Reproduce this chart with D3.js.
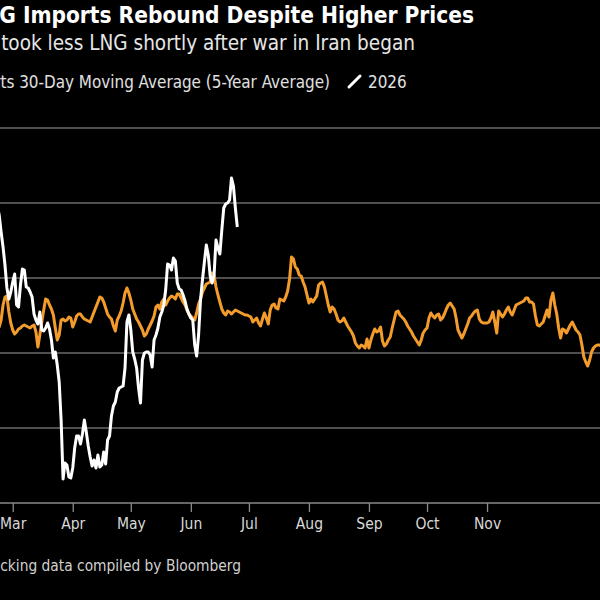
<!DOCTYPE html>
<html>
<head>
<meta charset="utf-8">
<script src="https://cdn.jsdelivr.net/npm/d3@7"></script>
<style>
  html, body { margin: 0; background: #000; }
  svg { display: block; }
</style>
</head>
<body>
<div id="chart"></div>
<script>
// ---- data ----
const titleText = "Japan's LNG Imports Rebound Despite Higher Prices";
const subtitleText = "Japan took less LNG shortly after war in Iran began";
const avgLabel = "LNG Imports 30-Day Moving Average (5-Year Average)";
const currentLabel = "2026";
const sourceText = "Source: Ship-tracking data compiled by Bloomberg";

const monthLabels = ["Mar", "Apr", "May", "Jun", "Jul", "Aug", "Sep", "Oct", "Nov"];
const monthStarts = ["2026-03-01", "2026-04-01", "2026-05-01", "2026-06-01", "2026-07-01",
                     "2026-08-01", "2026-09-01", "2026-10-01", "2026-11-01"];
const gridValues = [0, 75, 150, 225, 300, 375];

// both series are daily, starting on this date
const seriesStart = "2026-02-21";

// 5-year average of the 30-day moving average
const avgValues = [
  173, 176, 183, 198, 206, 207, 191, 180, 173, 169, 171, 174, 175, 177, 178, 177,
  176, 175, 177, 178, 171, 156, 168, 181, 193, 204, 203, 198, 194, 188, 175, 163,
  168, 183, 184, 182, 183, 186, 185, 176, 181, 187, 189, 189, 186, 184, 183, 182,
  181, 186, 191, 196, 201, 206, 205, 201, 195, 189, 186, 184, 177, 172, 183, 187,
  192, 200, 210, 215, 210, 203, 194, 189, 184, 181, 177, 173, 167, 169, 174, 178,
  182, 187, 196, 198, 194, 201, 204, 198, 202, 205, 207, 206, 204, 209, 209, 205,
  201, 198, 193, 189, 187, 185, 183, 190, 199, 204, 211, 215, 219, 220, 221, 230,
  228, 216, 208, 201, 194, 190, 188, 192, 191, 189, 191, 193, 192, 191, 190, 189,
  188, 188, 187, 186, 181, 183, 185, 180, 177, 184, 190, 185, 179, 193, 198, 199,
  195, 194, 204, 203, 202, 206, 212, 224, 246, 244, 236, 234, 228, 227, 221, 216,
  208, 200, 204, 201, 204, 207, 218, 220, 221, 216, 207, 198, 191, 196, 194, 189,
  183, 181, 182, 185, 181, 177, 174, 171, 167, 160, 157, 155, 158, 157, 155, 164,
  155, 163, 169, 174, 171, 172, 176, 162, 157, 159, 163, 166, 175, 183, 191, 192,
  188, 186, 184, 181, 177, 174, 171, 167, 164, 161, 158, 163, 170, 173, 175, 185,
  190, 187, 185, 188, 189, 183, 185, 189, 194, 198, 200, 197, 194, 185, 173, 169,
  165, 169, 174, 179, 185, 187, 190, 192, 193, 184, 181, 180, 180, 180, 181, 185,
  191, 181, 170, 192, 189, 186, 189, 193, 196, 191, 188, 193, 198, 199, 200, 201,
  202, 205, 205, 201, 201, 199, 187, 178, 177, 179, 181, 187, 193, 186, 203, 210,
  198, 189, 175, 165, 174, 173, 170, 174, 178, 181, 177, 173, 171, 168, 158, 146,
  141, 137, 143, 151, 155, 157, 158, 158, 157
];

// 2026
const currentValues = [
  298, 288, 271, 256, 238, 215, 204, 211, 221, 229, 198, 196, 218, 234, 233, 216,
  215, 211, 206, 189, 183, 179, 191, 173, 172, 175, 180, 174, 163, 145, 151, 138,
  121,  83,  24,  40,  38,  26,  25,  35,  55,  67,  67,  59,  69,  83,  71,  57,
   46,  37,  43,  35,  48,  36,  38,  51,  39,  63,  67,  87,  97, 101, 111, 115,
  116, 117, 135, 181, 188, 173, 151, 144, 135, 115, 100, 143, 150, 151, 151, 148,
  136, 163, 168, 175, 186, 191, 198, 213, 239, 238, 233, 245, 242, 220, 214, 213,
  208, 202, 194, 189, 185, 183, 158, 147, 168, 203, 223, 241, 258, 248, 227, 220,
  228, 263, 255, 249, 273, 295, 299, 300, 303, 325, 317, 295, 276
];

// ---- layout ----
const width = 600, height = 600;
const parseDate = d3.timeParse("%Y-%m-%d");
const startDate = parseDate(seriesStart);
const toSeries = values => values.map((v, i) => ({ date: d3.timeDay.offset(startDate, i), value: v }));
const avgData = toSeries(avgValues);
const currentData = toSeries(currentValues);

const svg = d3.select("#chart").append("svg")
  .attr("width", width)
  .attr("height", height)
  .style("background", "#000");

// the frame is cropped: the year runs slightly off both edges
const xScale = d3.scaleTime()
  .domain([parseDate("2026-01-01"), parseDate("2026-12-31")])
  .range([-101.5, 603.2]);
const yScale = d3.scaleLinear()
  .domain([0, 375])
  .range([503, 128]);

const font = "'DejaVu Sans Condensed', 'DejaVu Sans', sans-serif";

// gridlines
svg.append("g")
  .selectAll("line")
  .data(gridValues.slice(1))
  .join("line")
  .attr("x1", 0).attr("x2", width)
  .attr("y1", d => yScale(d)).attr("y2", d => yScale(d))
  .attr("stroke", "#6a6a6a")
  .attr("stroke-width", 1.4);

// x axis
const xAxis = svg.append("g")
  .attr("transform", `translate(0,${yScale(0)})`)
  .call(d3.axisBottom(xScale)
    .tickValues(monthStarts.map(parseDate))
    .tickFormat((d, i) => monthLabels[i])
    .tickSize(9)
    .tickPadding(6));
xAxis.select(".domain").remove();
xAxis.append("line")
  .attr("x1", 0).attr("x2", width)
  .attr("stroke", "#8a8a8a")
  .attr("stroke-width", 1.5);
xAxis.selectAll(".tick line").attr("stroke", "#8a8a8a").attr("stroke-width", 1.3);
xAxis.selectAll(".tick text")
  .attr("fill", "#d8d8d8")
  .style("font-family", font)
  .style("font-size", "15.5px");

// lines
const lineGen = d3.line()
  .x(d => xScale(d.date))
  .y(d => yScale(d.value));

svg.append("path")
  .datum(avgData)
  .attr("d", lineGen)
  .attr("fill", "none")
  .attr("stroke", "#f39c2c")
  .attr("stroke-width", 3)
  .attr("stroke-linejoin", "round");

svg.append("path")
  .datum(currentData)
  .attr("d", lineGen)
  .attr("fill", "none")
  .attr("stroke", "#ffffff")
  .attr("stroke-width", 3)
  .attr("stroke-linejoin", "round");

// text, right-aligned so that the cropped start falls off the left edge
function addText(str, x, y, size, weight, color) {
  return svg.append("text")
    .attr("x", x).attr("y", y)
    .attr("text-anchor", "end")
    .attr("fill", color)
    .attr("font-family", font)
    .attr("font-weight", weight)
    .attr("font-size", size)
    .text(str);
}
// scale font so that the visible tail of the string spans the measured width
function fitTail(sel, tail, targetWidth) {
  const node = sel.node();
  const full = node.textContent;
  const i = full.lastIndexOf(tail);
  const w = node.getSubStringLength(i, tail.length);
  const fs = parseFloat(sel.attr("font-size"));
  sel.attr("font-size", fs * targetWidth / w);
}

const title = addText(titleText, 474, 22.5, 21, "bold", "#ffffff");
fitTail(title, "G Imports Rebound Despite Higher Prices", 475);

const subtitle = addText(subtitleText, 415, 50, 18, "normal", "#e6e6e6");
fitTail(subtitle, "took less LNG shortly after war in Iran began", 414);

const legend = addText(avgLabel, 330, 87.5, 16, "normal", "#e0e0e0");
fitTail(legend, "ts 30-Day Moving Average (5-Year Average)", 330);

svg.append("line")
  .attr("x1", 349).attr("y1", 87)
  .attr("x2", 360).attr("y2", 76)
  .attr("stroke", "#ffffff")
  .attr("stroke-width", 3)
  .attr("stroke-linecap", "round");
svg.append("text")
  .attr("x", 368).attr("y", 87.5)
  .attr("fill", "#e0e0e0")
  .attr("font-family", font)
  .attr("font-size", legend.attr("font-size"))
  .text(currentLabel);

const source = addText(sourceText, 241, 571, 15, "normal", "#d0d0d0");
fitTail(source, "cking data compiled by Bloomberg", 241);
</script>
</body>
</html>
